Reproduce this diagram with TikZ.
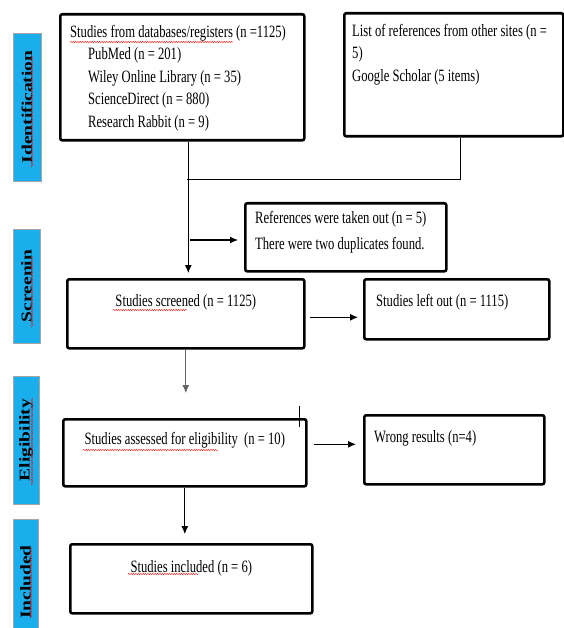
\documentclass[tikz,border=0pt]{standalone}
\usepackage{fontspec}
\setmainfont{Liberation Serif}[FakeStretch=0.73]
\newfontfamily\phasefont{Liberation Serif}[FakeStretch=1.3]
\usetikzlibrary{arrows.meta,positioning,calc,decorations.pathmorphing}
\definecolor{phaseblue}{RGB}{27,174,236}

\begin{document}
\begin{tikzpicture}[x=1pt, y=-1pt,
    box/.style={rectangle, draw, line width=2.6pt, rounded corners=2pt, inner sep=0pt, anchor=north west},
    phase/.style={rectangle, fill=phaseblue, draw=black!35, line width=0.6pt, rotate=90, inner sep=0pt, font=\phasefont\bfseries\fontsize{15}{15}\selectfont},
    txt/.style={inner sep=0pt, align=left, font=\fontsize{17.3}{22.5}\selectfont},
    arr/.style={-{Latex[length=8pt,width=7pt]}, line width=1.1pt},
    spell/.style={draw=red, line width=0.4pt, decorate, decoration={snake, amplitude=0.6pt, segment length=2.4pt}}
  ]
    \useasboundingbox (0,0) rectangle (563,628);

    % phase bars
    \node[phase, minimum width=148pt, minimum height=28pt] (ident) at (27,107) {Identification};
    \node[phase, minimum width=114pt, minimum height=27pt] (screen) at (26.5,286) {Screenin};
    \node[phase, minimum width=128pt, minimum height=26pt] (elig) at (26,440) {Eligibility};
    \node[phase, minimum width=126pt, minimum height=25pt] (incl) at (25.5,582) {Included};

    % boxes
    \node[box, minimum width=244pt, minimum height=126pt] (databases) at (59,13) {};
    \node[box, minimum width=219pt, minimum height=123pt] (others) at (343,12) {};
    \node[box, minimum width=201pt, minimum height=68pt] (removed) at (244,202) {};
    \node[box, minimum width=237pt, minimum height=69pt] (screened) at (66,278) {};
    \node[box, minimum width=185pt, minimum height=60pt] (leftout) at (363,278) {};
    \node[box, minimum width=243pt, minimum height=67pt] (assessed) at (62,418) {};
    \node[box, minimum width=180pt, minimum height=69pt] (wrong) at (363,414) {};
    \node[box, minimum width=242pt, minimum height=69pt] (included) at (69,543) {};

    % texts
    \node[txt, below right=12pt and 11pt of databases.north west] (dbtext) {Studies from databases/registers (n =1125)\\
      \hspace*{18pt}PubMed (n = 201)\\
      \hspace*{18pt}Wiley Online Library (n = 35)\\
      \hspace*{18pt}ScienceDirect (n = 880)\\
      \hspace*{18pt}Research Rabbit (n = 9)};
    \node[txt, below right=12pt and 9pt of others.north west] (othertext) {List of references from other sites (n =\\ 5)\\ Google Scholar (5 items)};
    \node[txt, below right=9pt and 11pt of removed.north west] (removedtext) {References were taken out (n = 5)\\[3.5pt] There were two duplicates found.};
    \node[txt, below=16pt of screened.north] (screenedtext) {Studies screened (n = 1125)};
    \node[txt, below right=16pt and 13pt of leftout.north west] (leftouttext) {Studies left out (n = 1115)};
    \node[txt, below=14pt of assessed.north] (assessedtext) {Studies assessed for eligibility~ (n = 10)};
    \node[txt, below right=16pt and 11pt of wrong.north west] (wrongtext) {Wrong results (n=4)};
    \node[txt, below=17pt of included.north] (includedtext) {Studies included (n = 6)};

    % connectors
    \coordinate (join) at (187,179);
    \coordinate (fork) at (187,240);
    \draw[line width=0.8pt] ([xshift=7pt]others.south) |- (join);
    \draw[arr, line width=0.8pt, shorten >=5pt] ([xshift=6pt]databases.south) -- ([xshift=2.5pt]screened.north);
    \draw[arr, shorten <=3pt, shorten >=6pt] (fork) -- (fork -| removed.west);
    \path ([yshift=-3.5pt]screened.east) coordinate (s1);
    \draw[arr, shorten <=4pt, shorten >=5pt] (s1) -- (s1 -| leftout.west);
    \draw[arr, line width=0.8pt, draw=black!60, fill=black!80, shorten >=25pt] (screened.south) -- (screened.south |- assessed.north);
    \path ([yshift=8.5pt]assessed.east) coordinate (s2);
    \draw[arr, shorten <=6pt, shorten >=7pt] (s2) -- (s2 -| wrong.west);
    \draw[arr, line width=0.8pt, shorten >=9pt] (assessed.south) -- (assessed.south |- included.north);
    \draw[line width=0.8pt] ([shift={(-8pt,12pt)}]assessed.north east) -- ([shift={(-8pt,-9pt)}]assessed.north east);

    % spelling marks
    \draw[spell] (70,42) -- (233,42);
    \draw[spell] (113,310) -- (187,310);
    \draw[spell] (83,450) -- (218,450);
    \draw[spell] (128,574) -- (199,574);
    \draw[spell] (32,167) -- (32,55);
    \draw[spell] (32,327) -- (32,256);
    \draw[spell] (32,485) -- (32,398);
    \draw[spell] (31,618) -- (31,547);
\end{tikzpicture}
\end{document}
